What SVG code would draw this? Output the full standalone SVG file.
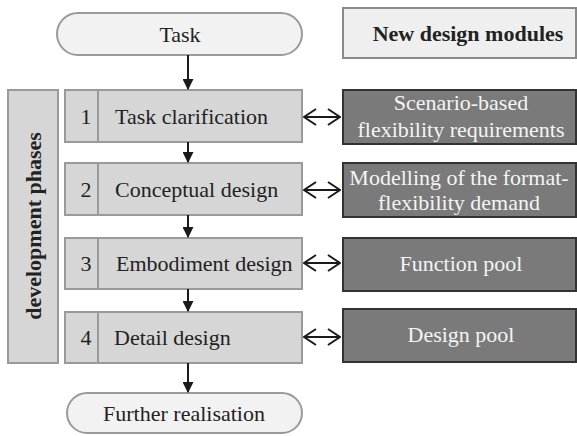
<svg xmlns="http://www.w3.org/2000/svg" width="577" height="436" viewBox="0 0 577 436">
<defs>
<marker id="ah" viewBox="0 0 10 10" refX="9" refY="5" markerWidth="11" markerHeight="11" markerUnits="userSpaceOnUse" orient="auto">
<path d="M0,0 L10,5 L0,10 z" fill="#1a1a1a"/>
</marker>
<marker id="open" viewBox="0 0 14 18" refX="13" refY="9" markerWidth="14" markerHeight="18" markerUnits="userSpaceOnUse" orient="auto-start-reverse">
<path d="M1,1 L13,9 L1,17" fill="none" stroke="#1a1a1a" stroke-width="2"/>
</marker>
<style>
.t{font-family:"Liberation Serif","DejaVu Serif","Times New Roman",serif;font-size:22px;fill:#222;}
.cap{fill:#f2f2f2;stroke:#9a9a9a;stroke-width:2;}
.phase{fill:#d6d6d6;stroke:#9a9a9a;stroke-width:2;}
.dark{fill:#7a7a7a;stroke:#333;stroke-width:2;}
.head{fill:#efefef;stroke:#8a8a8a;stroke-width:2;}
.w{fill:#f4f4f4;}
.b{font-weight:bold;}
.conn{stroke:#1a1a1a;stroke-width:2;fill:none;}
</style>
</defs>
<g class="t">
<g id="task"><rect class="cap" x="57" y="13" width="245" height="42" rx="21"/><text x="180" y="42" text-anchor="middle">Task</text></g>
<g id="sidebar"><rect class="phase" x="8" y="90" width="50" height="273"/><text class="b" transform="translate(41,226) rotate(-90)" text-anchor="middle">development phases</text></g>
<g id="phase1"><rect class="phase" x="65" y="90" width="237" height="52"/><line x1="98" y1="90" x2="98" y2="142" stroke="#9a9a9a" stroke-width="2"/><text x="86" y="124" text-anchor="middle">1</text><text x="115" y="124">Task clarification</text></g>
<g id="phase2"><rect class="phase" x="65" y="163" width="237" height="52"/><line x1="98" y1="163" x2="98" y2="215" stroke="#9a9a9a" stroke-width="2"/><text x="86" y="197" text-anchor="middle">2</text><text x="115" y="197">Conceptual design</text></g>
<g id="phase3"><rect class="phase" x="65" y="238" width="237" height="51"/><line x1="98" y1="238" x2="98" y2="289" stroke="#9a9a9a" stroke-width="2"/><text x="86" y="271" text-anchor="middle">3</text><text x="116" y="271">Embodiment design</text></g>
<g id="phase4"><rect class="phase" x="65" y="312" width="237" height="51"/><line x1="98" y1="312" x2="98" y2="363" stroke="#9a9a9a" stroke-width="2"/><text x="86" y="345" text-anchor="middle">4</text><text x="114" y="345">Detail design</text></g>
<g id="further"><rect class="cap" x="67" y="393" width="235" height="40" rx="20"/><text x="184" y="421" text-anchor="middle">Further realisation</text></g>
<g id="header"><rect class="head" x="343" y="8" width="233" height="50"/><text class="b" x="468" y="41" text-anchor="middle">New design modules</text></g>
<g id="mod1"><rect class="dark" x="343" y="90" width="233" height="54"/><text class="w" x="461" y="110" text-anchor="middle">Scenario-based</text><text class="w" x="461" y="137" text-anchor="middle">flexibility requirements</text></g>
<g id="mod2"><rect class="dark" x="343" y="163" width="233" height="54"/><text class="w" x="459" y="185" text-anchor="middle">Modelling of the format-</text><text class="w" x="459" y="210" text-anchor="middle">flexibility demand</text></g>
<g id="mod3"><rect class="dark" x="343" y="238" width="233" height="53"/><text class="w" x="461" y="271" text-anchor="middle">Function pool</text></g>
<g id="mod4"><rect class="dark" x="343" y="309" width="233" height="53"/><text class="w" x="461" y="342" text-anchor="middle">Design pool</text></g>
</g>
<g id="connectors">
<line class="conn" x1="188" y1="55" x2="188" y2="89" marker-end="url(#ah)"/>
<line class="conn" x1="188" y1="142" x2="188" y2="162" marker-end="url(#ah)"/>
<line class="conn" x1="188" y1="215" x2="188" y2="237" marker-end="url(#ah)"/>
<line class="conn" x1="188" y1="289" x2="188" y2="311" marker-end="url(#ah)"/>
<line class="conn" x1="188" y1="363" x2="188" y2="392" marker-end="url(#ah)"/>
<line class="conn" x1="304" y1="117" x2="340" y2="117" marker-start="url(#open)" marker-end="url(#open)"/>
<line class="conn" x1="304" y1="190" x2="340" y2="190" marker-start="url(#open)" marker-end="url(#open)"/>
<line class="conn" x1="304" y1="263" x2="340" y2="263" marker-start="url(#open)" marker-end="url(#open)"/>
<line class="conn" x1="304" y1="337" x2="340" y2="337" marker-start="url(#open)" marker-end="url(#open)"/>
</g>
</svg>
